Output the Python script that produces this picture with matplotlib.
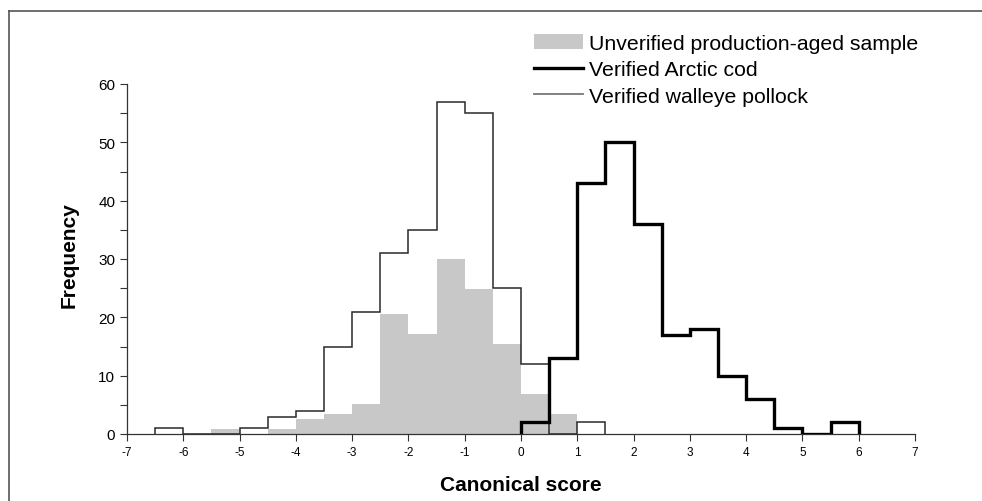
import numpy as np
import matplotlib
matplotlib.use("Agg")
import matplotlib.pyplot as plt
from matplotlib.lines import Line2D
from matplotlib.patches import Patch

plt.rcParams['font.family'] = ['Liberation Sans', 'DejaVu Sans']

# bin edges (width 0.5)
unverified_edges = [-5.5, -5.0, -4.5, -4.0, -3.5, -3.0, -2.5, -2.0, -1.5, -1.0, -0.5, 0.0, 0.5, 1.0]
unverified_vals = [0.86, 0.0, 0.86, 2.57, 3.43, 5.14, 20.57, 17.14, 30.0, 24.86, 15.43, 6.86, 3.43]

cod_edges = [0.0, 0.5, 1.0, 1.5, 2.0, 2.5, 3.0, 3.5, 4.0, 4.5, 5.0, 5.5, 6.0]
cod_vals = [2, 13, 43, 50, 36, 17, 18, 10, 6, 1, 0, 2]

pollock_edges = [-6.5, -6.0, -5.5, -5.0, -4.5, -4.0, -3.5, -3.0, -2.5, -2.0, -1.5, -1.0,
                 -0.5, 0.0, 0.5, 1.0, 1.5]
pollock_vals = [1, 0, 0, 1, 3, 4, 15, 21, 31, 35, 57, 55, 25, 12, 0, 2]

xticks = list(range(-7, 8))
yticks = [0, 10, 20, 30, 40, 50, 60]

fig = plt.figure(figsize=(9.82, 5.02), dpi=100)
ax = fig.add_axes([127/982, 1-435/502, (915-127)/982, (435-85)/502])

# shaded histogram
ax.stairs(unverified_vals, unverified_edges, fill=True, facecolor='#c8c8c8',
          edgecolor='none', zorder=1)
# walleye pollock
ax.stairs(pollock_vals, pollock_edges, fill=False, color='#2a2a2a', linewidth=1.1,
          baseline=0, zorder=2)
# arctic cod
ax.stairs(cod_vals, cod_edges, fill=False, color='black', linewidth=2.4,
          baseline=0, zorder=3)

ax.set_xlim(-7, 7)
ax.set_ylim(0, 60)
ax.set_xticks(xticks)
ax.set_xticklabels([str(v) for v in xticks], fontsize=8.5)
ax.set_yticks(yticks)
ax.set_yticklabels([str(v) for v in yticks], fontsize=11)
ax.set_yticks(np.arange(5, 60, 10), minor=True)
ax.tick_params(axis='both', which='major', direction='out', length=5, width=0.8, color='#333333')
ax.tick_params(axis='y', which='minor', direction='out', length=5, width=0.8, color='#333333')
ax.tick_params(axis='x', pad=4)
for s in ['top', 'right']:
    ax.spines[s].set_visible(False)
for s in ['left', 'bottom']:
    ax.spines[s].set_linewidth(0.9)
    ax.spines[s].set_color('#333333')

ax.set_xlabel('Canonical score', fontsize=15, fontweight='bold', labelpad=12)
ax.set_ylabel('Frequency', fontsize=15, fontweight='bold')
ax.yaxis.set_label_coords(-0.062, 0.515)

handles = [Patch(facecolor='#c8c8c8', edgecolor='none'),
           Line2D([], [], color='black', linewidth=2.4),
           Line2D([], [], color='#777777', linewidth=1.3)]
labels = ['Unverified production-aged sample', 'Verified Arctic cod', 'Verified walleye pollock']
leg = ax.legend(handles, labels, loc='upper right', bbox_to_anchor=(927/982, 1-26/502),
                bbox_transform=fig.transFigure, frameon=False, fontsize=15.3,
                handlelength=2.3, handletextpad=0.3, labelspacing=0.36, borderaxespad=0)

# outer frame
fig.add_artist(Line2D([9/982, 1.0], [1-12/502, 1-12/502], transform=fig.transFigure,
                      color='#555555', linewidth=1.2))
fig.add_artist(Line2D([9/982, 9/982], [0, 1-12/502], transform=fig.transFigure,
                      color='#555555', linewidth=1.2))

fig.savefig('out.png', dpi=100)
